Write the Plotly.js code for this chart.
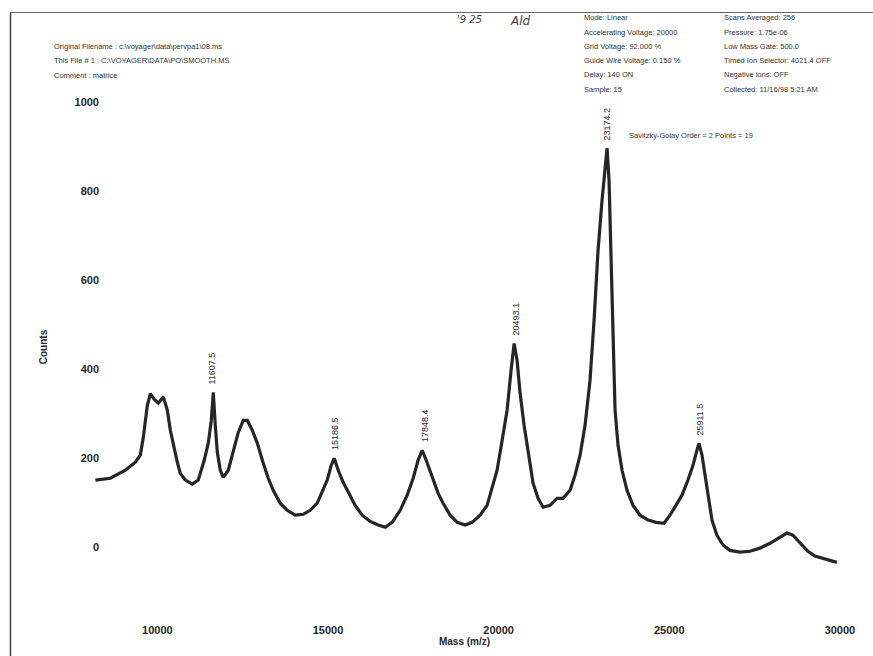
<!DOCTYPE html>
<html>
<head>
<meta charset="utf-8">
<script src="https://cdn.plot.ly/plotly-3.0.1.min.js"></script>
<style>html,body{margin:0;padding:0;background:#fff;}#chart{width:873px;height:656px;}</style>
</head>
<body>
<div id="chart"></div>
<script>
// Spectrum trace
const mass = [8185, 8624, 9063, 9356, 9502, 9590, 9707, 9795, 9912, 10029,
  10176, 10293, 10381, 10498, 10586, 10673, 10820, 11025, 11200, 11376,
  11493, 11581, 11640, 11698, 11757, 11845, 11932, 12079, 12225, 12372,
  12518, 12635, 12782, 12928, 13104, 13250, 13396, 13601, 13806, 14041,
  14275, 14480, 14685, 14861, 14978, 15095, 15183, 15300, 15446, 15593,
  15797, 16002, 16237, 16471, 16676, 16881, 17115, 17320, 17496, 17642,
  17760, 17876, 18081, 18228, 18374, 18579, 18784, 19018, 19223, 19457,
  19662, 19809, 19955, 20102, 20248, 20365, 20454, 20541, 20629, 20746,
  20834, 20922, 21009, 21156, 21302, 21507, 21712, 21888, 22093, 22239,
  22386, 22532, 22678, 22796, 22913, 23030, 23118, 23177, 23235, 23294,
  23353, 23411, 23499, 23616, 23762, 23938, 24142, 24377, 24611, 24845,
  25021, 25197, 25372, 25548, 25694, 25811, 25870, 25958, 26046, 26134,
  26251, 26397, 26573, 26778, 27071, 27364, 27656, 27949, 28241, 28446,
  28622, 28827, 29061, 29266, 29471, 29705, 29910];
const counts = [151, 155, 173, 191, 207, 247, 319, 345, 332, 324,
  338, 308, 263, 218, 191, 166, 151, 142, 151, 196,
  234, 285, 348, 274, 214, 173, 157, 173, 218, 258,
  285, 285, 263, 234, 189, 155, 128, 99, 83, 72,
  74, 83, 99, 128, 151, 184, 200, 173, 146, 124,
  94, 72, 58, 50, 45, 56, 83, 117, 155, 196,
  218, 196, 151, 121, 99, 72, 56, 50, 56, 72,
  94, 132, 173, 240, 308, 398, 458, 420, 346, 274,
  229, 184, 144, 110, 90, 94, 110, 110, 128, 162,
  207, 274, 375, 510, 667, 780, 858, 897, 825, 645,
  420, 308, 229, 173, 128, 94, 72, 61, 56, 54,
  72, 94, 117, 151, 184, 218, 234, 207, 162, 117,
  61, 27, 5, -7, -11, -9, -2, 9, 23, 32,
  27, 9, -9, -20, -25, -29, -34];

// Peak labels
const peakLabels = ["11607.5", "15186.5", "17848.4", "20493.1", "23174.2", "25911.5"];
const peakMass = [11607.5, 15186.5, 17848.4, 20493.1, 23174.2, 25911.5];
const peakCounts = [348, 200, 218, 458, 897, 234];

// Axis ticks
const xTicks = [10000, 15000, 20000, 25000, 30000];
const yTicks = [0, 200, 400, 600, 800, 1000];

// Header texts
const headerLeft = [
  "Original Filename : c:\\voyager\\data\\pervpa1\\08.ms",
  "This File # 1 : C:\\VOYAGER\\DATA\\PO\\SMOOTH.MS",
  "Comment : matrice"
];
const headerMid = [
  "Mode: Linear",
  "Accelerating Voltage: 20000",
  "Grid Voltage: 92.000 %",
  "Guide Wire Voltage: 0.150 %",
  "Delay: 140 ON",
  "Sample: 15"
];
const headerRight = [
  "Scans Averaged: 256",
  "Pressure: 1.75e-06",
  "Low Mass Gate: 500.0",
  "Timed Ion Selector: 4021.4 OFF",
  "Negative ions: OFF",
  "Collected: 11/16/98 5:21 AM"
];
const smoothNote = "Savitzky-Golay Order = 2 Points = 19";

const W = 873, H = 656, L = 72, R = 16, T = 80, B = 42;
const PW = W - L - R, PH = H - T - B;
const px = x => (x - L) / PW;
const py = y => (H - B - y) / PH;

const ink = "#262626";
const smallFont = {family: "Liberation Sans, Arial, sans-serif", size: 7.5, color: "#333"};

const annotations = [];
headerLeft.forEach((t, i) => annotations.push({
  text: t, xref: "paper", yref: "paper", x: px(52), y: py(46 + i * 14.5),
  xanchor: "left", yanchor: "middle", showarrow: false, font: smallFont
}));
headerMid.forEach((t, i) => annotations.push({
  text: t, xref: "paper", yref: "paper", x: px(582), y: py(18 + i * 14.2),
  xanchor: "left", yanchor: "middle", showarrow: false, font: smallFont
}));
headerRight.forEach((t, i) => annotations.push({
  text: t, xref: "paper", yref: "paper", x: px(722), y: py(18 + i * 14.2),
  xanchor: "left", yanchor: "middle", showarrow: false, font: smallFont
}));
annotations.push({
  text: smoothNote, xref: "paper", yref: "paper", x: px(627), y: py(135),
  xanchor: "left", yanchor: "middle", showarrow: false, font: smallFont
});
annotations.push({
  text: "'9 25", xref: "paper", yref: "paper", x: px(455), y: py(19),
  xanchor: "left", yanchor: "middle", showarrow: false,
  font: {family: "DejaVu Sans, sans-serif", size: 10, color: "#444", style: "italic"}
});
annotations.push({
  text: "Ald", xref: "paper", yref: "paper", x: px(508), y: py(21),
  xanchor: "left", yanchor: "middle", showarrow: false,
  font: {family: "DejaVu Sans, sans-serif", size: 12, color: "#444", style: "italic"}
});
peakLabels.forEach((t, i) => annotations.push({
  text: t, x: peakMass[i], y: peakCounts[i], xref: "x", yref: "y",
  textangle: -90, xanchor: "center", yanchor: "bottom", yshift: 6,
  showarrow: false,
  font: {family: "Liberation Sans, Arial, sans-serif", size: 9, color: ink}
}));

const layout = {
  width: W, height: H,
  margin: {l: L, r: R, t: T, b: B},
  paper_bgcolor: "#ffffff",
  plot_bgcolor: "#ffffff",
  showlegend: false,
  xaxis: {
    range: [7500, 30500],
    tickvals: xTicks,
    ticktext: xTicks.map(String),
    showgrid: false, zeroline: false, showline: false,
    ticks: "outside", ticklen: 6, tickcolor: "rgba(0,0,0,0)",
    tickfont: {family: "Liberation Sans, Arial, sans-serif", size: 11, color: ink, weight: "bold"},
    title: {text: "Mass (m/z)", standoff: 2,
      font: {family: "Liberation Sans, Arial, sans-serif", size: 10, color: ink, weight: "bold"}}
  },
  yaxis: {
    range: [-150, 1050],
    tickvals: yTicks,
    ticktext: yTicks.map(String),
    anchor: "free", position: px(99),
    showgrid: false, zeroline: false, showline: false,
    ticks: "",
    tickfont: {family: "Liberation Sans, Arial, sans-serif", size: 11, color: ink, weight: "bold"},
    title: {text: "Counts", standoff: 24,
      font: {family: "Liberation Sans, Arial, sans-serif", size: 10, color: ink, weight: "bold"}}
  },
  annotations: annotations,
  shapes: [
    {type: "line", xref: "paper", yref: "paper", x0: px(10.5), x1: px(10.5), y0: py(13), y1: py(656),
      line: {color: "#444", width: 1.5}},
    {type: "line", xref: "paper", yref: "paper", x0: px(10), x1: px(873), y0: py(12.5), y1: py(12.5),
      line: {color: "#666", width: 1.2}}
  ]
};

const trace = {
  type: "scatter", mode: "lines",
  x: mass, y: counts,
  line: {color: ink, width: 3.2, shape: "linear"},
  hoverinfo: "skip"
};

Plotly.newPlot("chart", [trace], layout, {displayModeBar: false, staticPlot: true});
</script>
</body>
</html>
